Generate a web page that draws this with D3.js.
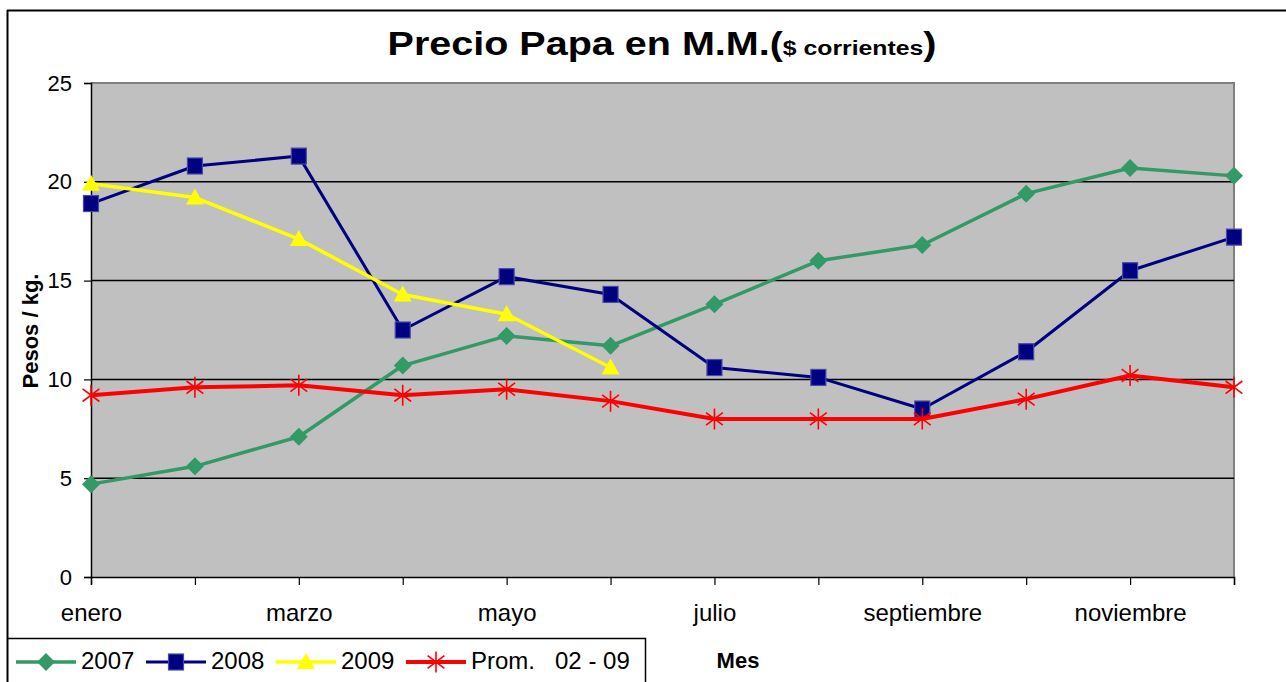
<!DOCTYPE html>
<html><head><meta charset="utf-8">
<script src="https://cdn.jsdelivr.net/npm/d3@7"></script>
<style>body{margin:0;background:#fff}svg{display:block}text{font-family:"Liberation Sans",Arial,sans-serif}</style>
</head><body>
<script>
const months = ["enero","febrero","marzo","abril","mayo","junio","julio","agosto","septiembre","octubre","noviembre","diciembre"];
const s2007 = [4.7,5.6,7.1,10.7,12.2,11.7,13.8,16.0,16.8,19.4,20.7,20.3];
const s2008 = [18.9,20.8,21.3,12.5,15.2,14.3,10.6,10.1,8.5,11.4,15.5,17.2];
const s2009 = [19.9,19.2,17.1,14.3,13.3,10.6];
const sProm = [9.2,9.6,9.7,9.2,9.5,8.9,8.0,8.0,8.0,9.0,10.2,9.6];
const yTicks = [0,5,10,15,20,25];
const seriesNames = ["2007","2008","2009","Prom.   02 - 09"];

const W=1286,H=682;
const svg=d3.select("body").append("svg").attr("width",W).attr("height",H);
const L=91,R=1234,T=83,B=577;
const x=d3.scalePoint().domain(months).range([L,R]);
const y=d3.scaleLinear().domain([0,25]).range([B,T]);

// outer frame
svg.append("line").attr("x1",7.5).attr("x2",7.5).attr("y1",10).attr("y2",H).attr("stroke","#000").attr("stroke-width",2);
svg.append("line").attr("x1",7).attr("x2",W).attr("y1",10.5).attr("y2",10.5).attr("stroke","#000").attr("stroke-width",2);

// plot area
svg.append("rect").attr("x",L).attr("y",T).attr("width",R-L).attr("height",B-T).attr("fill","#C0C0C0");
svg.append("path").attr("d",`M${L},${T}H${R}V${B}`).attr("fill","none").attr("stroke","#808080").attr("stroke-width",2);
svg.append("g").selectAll("line").data(yTicks.filter(d=>d>0&&d<25)).join("line")
  .attr("x1",L).attr("x2",R).attr("y1",d=>y(d)).attr("y2",d=>y(d)).attr("stroke","#000").attr("stroke-width",1.5);

// y axis
const ya=svg.append("g").attr("transform",`translate(${L},0)`).call(d3.axisLeft(y).tickValues(yTicks).tickSize(7).tickPadding(12));
ya.select(".domain").attr("stroke","#000").attr("stroke-width",1.5);
ya.selectAll(".tick line").attr("stroke","#000").attr("stroke-width",1.2);
ya.selectAll("text").attr("font-size",22).attr("fill","#000").attr("font-family","Liberation Sans, Arial, sans-serif");
// x axis
const xa=svg.append("g").attr("transform",`translate(0,${B})`).call(d3.axisBottom(x).tickSize(8).tickPadding(19).tickFormat((d,i)=>i%2===0?d:""));
xa.select(".domain").attr("stroke","#000").attr("stroke-width",1.5);
xa.selectAll(".tick line").attr("stroke","#000").attr("stroke-width",1.2);
xa.selectAll("text").attr("font-size",24).attr("fill","#000").attr("font-family","Liberation Sans, Arial, sans-serif");

// title
const t=svg.append("text").attr("transform","translate(662,55) scale(1.18,1)").attr("text-anchor","middle").attr("font-weight","bold").attr("fill","#000");
t.append("tspan").attr("font-size",33.5).text("Precio Papa en M.M.(");
t.append("tspan").attr("font-size",21).text("$ corrientes");
t.append("tspan").attr("font-size",33.5).text(")");
// y title
svg.append("text").attr("transform","translate(38,331) rotate(-90)").attr("text-anchor","middle").attr("font-weight","bold").attr("font-size",22).text("Pesos / kg.");
// x title
svg.append("text").attr("x",738).attr("y",668).attr("text-anchor","middle").attr("font-weight","bold").attr("font-size",22).text("Mes");

const cfg=[
 {data:s2007,color:"#339966",w:3.5,m:"diamond"},
 {data:s2008,color:"#000080",w:3,m:"square"},
 {data:s2009,color:"#FFFF00",w:3.5,m:"triangle"},
 {data:sProm,color:"#FF0000",w:4,m:"star"}
];
function marker(g,type,color,cx,cy){
  if(type==="diamond") g.append("path").attr("d",`M${cx},${cy-9}L${cx+9},${cy}L${cx},${cy+9}L${cx-9},${cy}Z`).attr("fill",color);
  else if(type==="square") g.append("rect").attr("x",cx-7.5).attr("y",cy-8).attr("width",15).attr("height",16).attr("fill",color).attr("stroke","#4848a8").attr("stroke-width",1.2);
  else if(type==="triangle") g.append("path").attr("d",`M${cx},${cy-9}L${cx+9},${cy+7}L${cx-9},${cy+7}Z`).attr("fill",color);
  else { const r=10.5; g.append("path").attr("d",`M${cx},${cy-r}V${cy+r}M${cx-r*0.8},${cy-r*0.6}L${cx+r*0.8},${cy+r*0.6}M${cx-r*0.8},${cy+r*0.6}L${cx+r*0.8},${cy-r*0.6}`).attr("stroke",color).attr("stroke-width",1.6).attr("fill","none"); }
}
const line=d3.line().x((d,i)=>x(months[i])).y(d=>y(d));
cfg.forEach(c=>{
  const g=svg.append("g");
  g.append("path").attr("d",line(c.data)).attr("fill","none").attr("stroke",c.color).attr("stroke-width",c.w).attr("stroke-linejoin","round");
  c.data.forEach((v,i)=>marker(g,c.m,c.color,x(months[i]),y(v)));
});

// legend
svg.append("path").attr("d",`M7,638.5H645.5V${H}`).attr("fill","none").attr("stroke","#000").attr("stroke-width",1.5);
const lx=[16,146,276,406];
cfg.forEach((c,i)=>{
  const g=svg.append("g");
  g.append("line").attr("x1",lx[i]).attr("x2",lx[i]+60).attr("y1",662).attr("y2",662).attr("stroke",c.color).attr("stroke-width",c.w);
  marker(g,c.m,c.color,lx[i]+30,662);
  g.append("text").attr("x",lx[i]+65).attr("y",669).attr("font-size",24).attr("fill","#000").style("white-space","pre").text(seriesNames[i]);
});
</script>
</body></html>
